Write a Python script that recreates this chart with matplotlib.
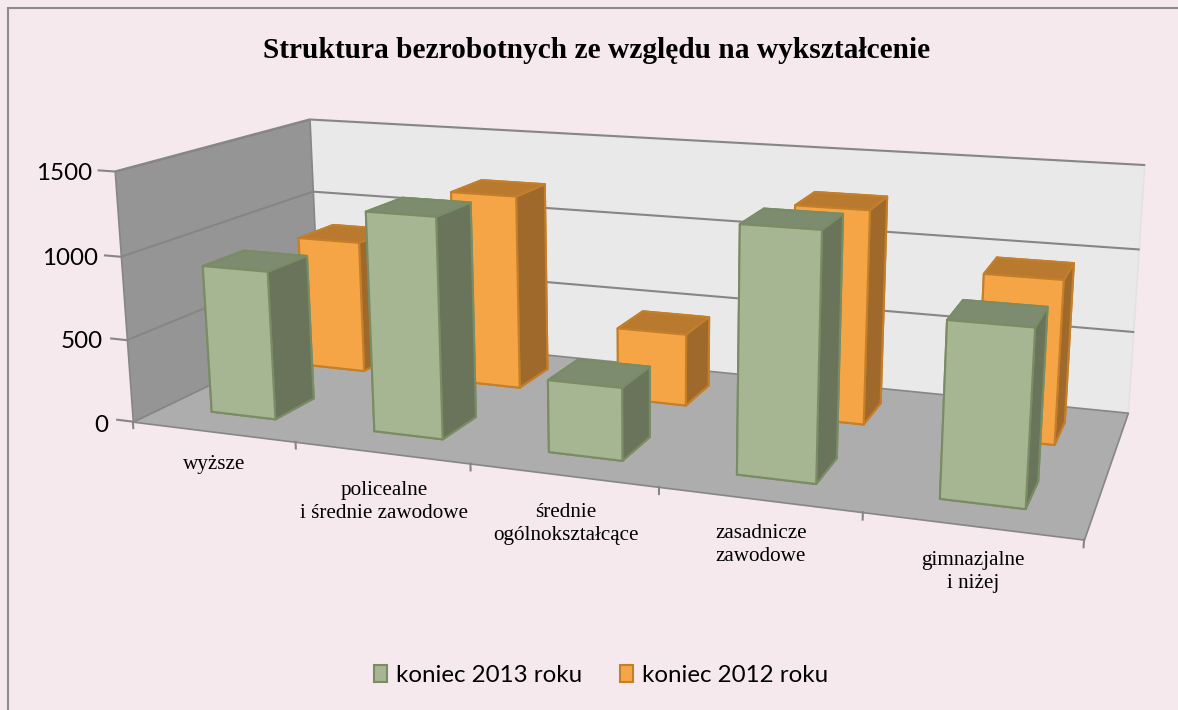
import matplotlib
matplotlib.use("Agg")
import matplotlib.pyplot as plt
from matplotlib.patches import Patch, Rectangle
from mpl_toolkits.mplot3d.art3d import Poly3DCollection

categories = ["wyższe", "policealne\ni średnie zawodowe", "średnie\nogólnokształcące",
              "zasadnicze\nzawodowe", "gimnazjalne\ni niżej"]
series_names = ["koniec 2013 roku", "koniec 2012 roku"]
values_2013 = [900, 1300, 420, 1380, 960]
values_2012 = [850, 1220, 445, 1280, 960]
z_ticks = [0, 500, 1000, 1500]

W, H = 1178, 710
bg = "#F5E9EE"
grid = "#868686"
# front, top, side, edge
green = ("#A6B592", "#7D8B6F", "#6A745B", "#7A8C63")
orange = ("#F6A546", "#B97A30", "#A0692C", "#C47F2A")

fig = plt.figure(figsize=(W / 100, H / 100), dpi=100, facecolor=bg)
fig.add_artist(Rectangle((8 / W, -0.01), (W - 2) / W, 1.01 - 8 / H, fill=False, ec="#8C8C8C", lw=1.5,
                         transform=fig.transFigure))

# square 3d axes, bigger than the figure so the box fills the chart area
side = 1013.6
ax = fig.add_axes([112.25 / W, (H - 815.3) / H, side / W, side / H], projection="3d")
ax.patch.set_visible(False)
ax.set_axis_off()
ax.computed_zorder = False
ax.set_xlim(0, 5, view_margin=0)
ax.set_ylim(0, 1, view_margin=0)
ax.set_zlim(0, 1500, view_margin=0)
ax.view_init(elev=13.832, azim=-69.583, roll=0.162)
ax.set_proj_type("persp", focal_length=0.3292)
ax.set_box_aspect((1, 0.3956, 0.2723))

# walls and floor
top = z_ticks[-1]
left_wall = [(0, 0, 0), (0, 1, 0), (0, 1, top), (0, 0, top)]
back_wall = [(0, 1, 0), (5, 1, 0), (5, 1, top), (0, 1, top)]
floor = [(0, 0, 0), (5, 0, 0), (5, 1, 0), (0, 1, 0)]
for poly, col, ec in [(back_wall, "#E9E9E9", "#E2E2E2"), (left_wall, "#959595", grid), (floor, "#ADADAD", grid)]:
    walls = Poly3DCollection([poly], facecolors=col, edgecolors=ec, linewidths=1.2, zorder=1)
    walls.set_clip_on(False)
    ax.add_collection3d(walls)

for z in z_ticks[1:]:
    ax.plot([-0.1, 0, 0, 5], [0, 0, 1, 1], [z, z, z, z], color=grid, lw=1.5, zorder=2, clip_on=False)
ax.plot([-0.1, 0], [0, 0], [0, 0], color=grid, lw=1.5, zorder=2, clip_on=False)
for i in range(len(categories) + 1):
    ax.plot([i, i], [0, 0], [0, -40], color=grid, lw=1.5, zorder=2, clip_on=False)

# bars, back row first
bar_w = 0.4
bar_d = 0.205
rows = [(0.65, values_2012, orange, 3), (0.15, values_2013, green, 10)]
for y0, vals, cols, zo in rows:
    for i, v in enumerate(vals):
        front, upper, side_c, edge = cols
        # faces in order bottom, top, -y, +y, -x, +x
        face_cols = [front, upper, front, front, side_c, side_c]
        ax.bar3d(i + 0.5 - bar_w / 2, y0, 0, bar_w, bar_d, v, color=face_cols, shade=False,
                 edgecolor=edge, linewidth=1.5, zorder=zo + i)

# tick labels, positions in pixels
tick_pos = [(108, 425), (103, 342), (98, 259), (92, 174)]
for z, (px, py) in zip(z_ticks, tick_pos):
    fig.text(px / W, 1 - py / H, str(z), ha="right", va="center", fontsize=17.4, family="Lato")

label_pos = [(214, 464), (384, 502), (566, 524), (761, 545), (973, 572)]
for lab, (px, py) in zip(categories, label_pos):
    fig.text(px / W, 1 - py / H, lab, ha="center", va="center", family="Liberation Serif",
             fontsize=15.2, linespacing=1.33)

fig.text(597 / W, 1 - 51 / H, "Struktura bezrobotnych ze względu na wykształcenie", ha="center", va="center",
         family="Liberation Serif", weight="bold", fontsize=21.2)

handles = [Patch(fc=green[0], ec=green[3], lw=1.5), Patch(fc=orange[0], ec=orange[3], lw=1.5)]
fig.legend(handles, series_names, ncol=2, loc="center", bbox_to_anchor=(601 / W, 1 - 675 / H), frameon=False,
           prop={"family": "Lato", "size": 17.4}, handlelength=0.55, handleheight=0.7, handletextpad=0.37,
           columnspacing=1.58)

fig.savefig("out.png", dpi=100, facecolor=bg)
